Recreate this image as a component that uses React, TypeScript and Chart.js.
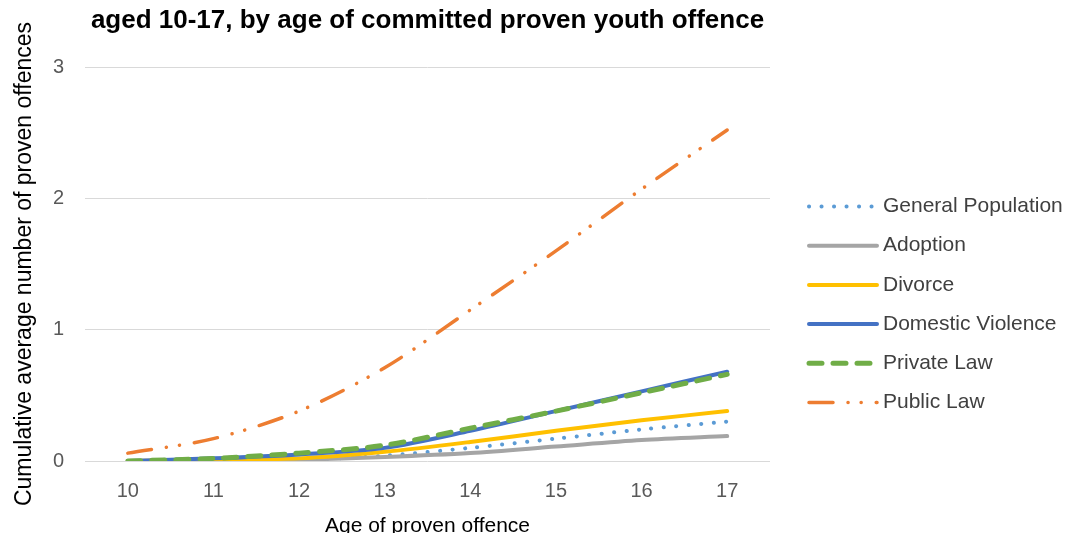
import { useEffect, useRef } from "react";
import { Chart, registerables } from "chart.js";

Chart.register(...registerables);

// Age at which the proven offence was committed
const ages = ["10", "11", "12", "13", "14", "15", "16", "17"];

// Cumulative average number of proven offences per group
const generalPopulation = [0, 0.005, 0.01, 0.04, 0.1, 0.17, 0.24, 0.3];
const adoption = [0, 0, 0.01, 0.03, 0.06, 0.11, 0.16, 0.19];
const divorce = [0, 0.01, 0.02, 0.07, 0.145, 0.23, 0.31, 0.38];
const domesticViolence = [0, 0.02, 0.05, 0.1, 0.23, 0.38, 0.53, 0.68];
const privateLaw = [0, 0.02, 0.06, 0.12, 0.25, 0.38, 0.52, 0.66];
const publicLaw = [0.06, 0.17, 0.38, 0.71, 1.15, 1.6, 2.07, 2.52];

const seriesNames = [
  "General Population",
  "Adoption",
  "Divorce",
  "Domestic Violence",
  "Private Law",
  "Public Law",
];

const yMin = 0;
const yMax = 3;
const yStep = 1;

const titleText = "aged 10-17, by age of committed proven youth offence";
const yTitle = "Cumulative average number of proven offences";
const xTitle = "Age of proven offence";

const FONT = "'Liberation Sans', Arial, sans-serif";

// Legend drawn at the right, using each dataset's own line style
const sideLegend = {
  id: "sideLegend",
  afterDraw(chart: any) {
    const { ctx, chartArea } = chart;
    const x0 = chartArea.right + 39;
    const lineLen = 68;
    const textX = chartArea.right + 113;
    const firstY = chartArea.top + 139.5;
    const step = 39.2;
    ctx.save();
    chart.data.datasets.forEach((ds: any, i: number) => {
      const y = firstY + i * step;
      ctx.beginPath();
      ctx.setLineDash(ds.borderDash || []);
      ctx.lineCap = ds.borderCapStyle || "butt";
      ctx.lineWidth = ds.borderWidth;
      ctx.strokeStyle = ds.borderColor;
      ctx.moveTo(x0, y);
      ctx.lineTo(x0 + lineLen, y);
      ctx.stroke();
      ctx.setLineDash([]);
      ctx.fillStyle = "#404040";
      ctx.font = `21px ${FONT}`;
      ctx.textBaseline = "middle";
      ctx.textAlign = "left";
      ctx.fillText(ds.label, textX, y);
    });
    ctx.restore();
  },
};

export default function App() {
  const canvasRef = useRef<HTMLCanvasElement>(null);

  useEffect(() => {
    const values = [
      generalPopulation,
      adoption,
      divorce,
      domesticViolence,
      privateLaw,
      publicLaw,
    ];
    const styles = [
      { borderColor: "#5B9BD5", borderWidth: 4, borderDash: [0.1, 12.4], borderCapStyle: "round" },
      { borderColor: "#A5A5A5", borderWidth: 4, borderDash: [], borderCapStyle: "round" },
      { borderColor: "#FFC000", borderWidth: 4, borderDash: [], borderCapStyle: "round" },
      { borderColor: "#4472C4", borderWidth: 4, borderDash: [], borderCapStyle: "round" },
      { borderColor: "#70AD47", borderWidth: 5, borderDash: [13, 11], borderCapStyle: "round" },
      { borderColor: "#ED7D31", borderWidth: 3.5, borderDash: [24, 15, 0.1, 13, 0.1, 15], borderCapStyle: "round" },
    ];

    const chart = new Chart(canvasRef.current as HTMLCanvasElement, {
      type: "line",
      data: {
        labels: ages,
        datasets: values.map((v, i) => ({
          label: seriesNames[i],
          data: v,
          ...styles[i],
          fill: false,
          pointRadius: 0,
          pointHoverRadius: 0,
          tension: 0.3,
          order: values.length - i,
        })) as any,
      },
      options: {
        responsive: false,
        animation: false,
        devicePixelRatio: 1,
        layout: { padding: { left: 0, right: 295, top: 0, bottom: 0 } },
        plugins: {
          legend: { display: false },
          tooltip: { enabled: false },
          title: {
            display: true,
            text: titleText,
            fullSize: false,
            color: "#000000",
            font: { family: FONT, size: 26, weight: "bold" },
            padding: { top: 5.4, bottom: 30.4 },
          },
        },
        scales: {
          x: {
            type: "category",
            offset: true,
            grid: { display: false, drawTicks: false },
            border: { display: false },
            ticks: {
              color: "#595959",
              font: { family: FONT, size: 20 },
              padding: 18.5,
              maxRotation: 0,
            },
            title: {
              display: true,
              text: xTitle,
              color: "#000000",
              font: { family: FONT, size: 21 },
              padding: { top: 0, bottom: 6.1 },
            },
            afterFit(scale: any) {
              scale.height = 84;
            },
          },
          y: {
            min: yMin,
            max: yMax,
            grid: { color: "#D9D9D9", lineWidth: 1, drawTicks: false },
            border: { display: false },
            ticks: {
              stepSize: yStep,
              color: "#595959",
              font: { family: FONT, size: 20 },
              padding: 21,
            },
            title: {
              display: true,
              text: yTitle,
              color: "#000000",
              font: { family: FONT, size: 23 },
              padding: { top: 10.7, bottom: 0 },
            },
            afterFit(scale: any) {
              scale.width = 85;
            },
          },
        },
      },
      plugins: [sideLegend],
    } as any);

    return () => chart.destroy();
  }, []);

  return (
    <div
      style={{
        position: "fixed",
        left: 0,
        top: 0,
        width: 1065,
        height: 545,
        background: "#ffffff",
      }}
    >
      <canvas ref={canvasRef} width={1065} height={545} style={{ display: "block" }} />
    </div>
  );
}
